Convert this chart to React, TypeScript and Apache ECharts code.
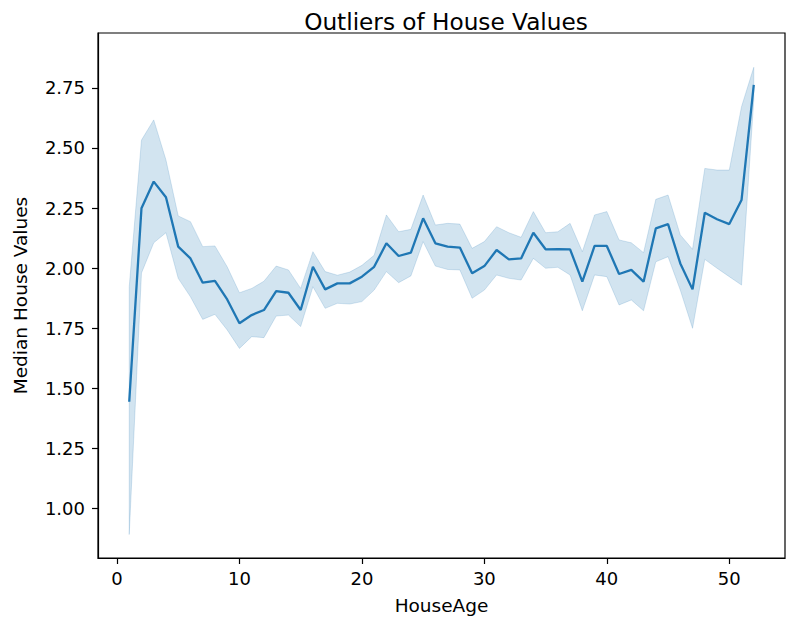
import React, { useEffect, useRef } from "react";
import * as echarts from "echarts";

const houseAge = [1,2,3,4,5,6,7,8,9,10,11,12,13,14,15,16,17,18,19,20,21,22,23,24,25,26,27,28,29,30,31,32,33,34,35,36,37,38,39,40,41,42,43,44,45,46,47,48,49,50,51,52];
const medianValue = [1.443,2.249,2.360,2.295,2.089,2.040,1.939,1.946,1.869,1.770,1.804,1.825,1.904,1.897,1.825,2.005,1.911,1.936,1.936,1.964,2.005,2.103,2.050,2.064,2.207,2.103,2.089,2.085,1.978,2.008,2.075,2.036,2.040,2.147,2.078,2.079,2.078,1.943,2.092,2.092,1.975,1.992,1.943,2.165,2.183,2.019,1.911,2.230,2.203,2.183,2.283,2.763];
const ciUpper = [1.922,2.533,2.617,2.450,2.217,2.193,2.089,2.092,2.005,1.897,1.915,1.945,2.008,1.992,1.915,2.068,1.985,1.970,1.983,2.011,2.053,2.221,2.151,2.161,2.304,2.179,2.186,2.183,2.082,2.110,2.172,2.147,2.128,2.235,2.147,2.151,2.186,2.068,2.221,2.235,2.117,2.105,2.064,2.286,2.304,2.138,2.078,2.415,2.408,2.408,2.672,2.836];
const ciLower = [0.890,1.979,2.105,2.147,1.957,1.880,1.786,1.807,1.742,1.665,1.714,1.710,1.800,1.804,1.756,1.922,1.832,1.853,1.850,1.860,1.908,1.985,1.939,1.967,2.110,2.008,1.994,1.992,1.874,1.908,1.971,1.957,1.950,2.040,1.999,2.003,1.971,1.822,1.971,1.964,1.846,1.867,1.822,2.026,2.047,1.908,1.749,2.036,1.999,1.964,1.929,2.700];
const xTicks = [0, 10, 20, 30, 40, 50];
const yTicks = [1.0, 1.25, 1.5, 1.75, 2.0, 2.25, 2.5, 2.75];

const BLUE = "#1f77b4";
const FONT = "DejaVu Sans";

export default function App() {
  const ref = useRef<HTMLDivElement>(null);
  useEffect(() => {
    if (!ref.current) return;
    const chart = echarts.init(ref.current, undefined, { renderer: "svg" });
    const bandData = houseAge.map((x, i) => [x, ciLower[i], ciUpper[i]]);
    const lineData = houseAge.map((x, i) => [x, medianValue[i]]);
    chart.setOption({
      animation: false,
      backgroundColor: "#ffffff",
      title: {
        text: "Outliers of House Values",
        left: 441,
        textAlign: "center",
        top: 5,
        textStyle: { fontFamily: FONT, fontSize: 23.2, fontWeight: "normal", color: "#000" },
      },
      grid: {
        left: 98,
        right: 15,
        top: 33,
        bottom: 74,
        show: true,
        borderColor: "#000",
        borderWidth: 1.2,
        backgroundColor: "transparent",
      },
      xAxis: {
        type: "value",
        min: -1.55,
        max: 54.55,
        name: "HouseAge",
        nameLocation: "middle",
        nameGap: 38,
        nameTextStyle: { fontFamily: FONT, fontSize: 18.5, color: "#000" },
        axisLine: { show: true, onZero: false, lineStyle: { color: "#000", width: 1.2 } },
        axisTick: { show: true, length: 6, customValues: xTicks, lineStyle: { color: "#000", width: 1.2 } },
        axisLabel: {
          customValues: xTicks,
          margin: 11,
          fontFamily: FONT,
          fontSize: 18,
          color: "#000",
          formatter: (v: number) => String(v),
        },
        splitLine: { show: false },
      },
      yAxis: {
        type: "value",
        min: 0.792,
        max: 2.979,
        name: "Median House Values",
        nameLocation: "middle",
        nameRotate: 90,
        nameGap: 68,
        nameTextStyle: { fontFamily: FONT, fontSize: 18.5, color: "#000" },
        axisLine: { show: true, onZero: false, lineStyle: { color: "#000", width: 1.2 } },
        axisTick: { show: true, length: 6, customValues: yTicks, lineStyle: { color: "#000", width: 1.2 } },
        axisLabel: {
          customValues: yTicks,
          margin: 13,
          fontFamily: FONT,
          fontSize: 18,
          color: "#000",
          formatter: (v: number) => v.toFixed(2),
        },
        splitLine: { show: false },
      },
      series: [
        {
          type: "custom",
          data: bandData,
          encode: { x: 0, y: [1, 2] },
          silent: true,
          renderItem: (params: any, api: any) => {
            if (params.dataIndex !== 0) return null;
            const upper = bandData.map((d) => api.coord([d[0], d[2]]));
            const lower = bandData.map((d) => api.coord([d[0], d[1]])).reverse();
            return {
              type: "polygon",
              shape: { points: upper.concat(lower) },
              style: {
                fill: "rgba(31,119,180,0.2)",
                stroke: "rgba(31,119,180,0.18)",
                lineWidth: 1,
              },
            };
          },
          z: 1,
        },
        {
          type: "line",
          data: lineData,
          symbol: "none",
          lineStyle: { color: BLUE, width: 2.3 },
          z: 5,
        },
      ],
    });
    return () => chart.dispose();
  }, []);
  return (
    <div
      ref={ref}
      style={{ position: "fixed", left: 0, top: 0, width: 800, height: 632, background: "#fff" }}
    />
  );
}
